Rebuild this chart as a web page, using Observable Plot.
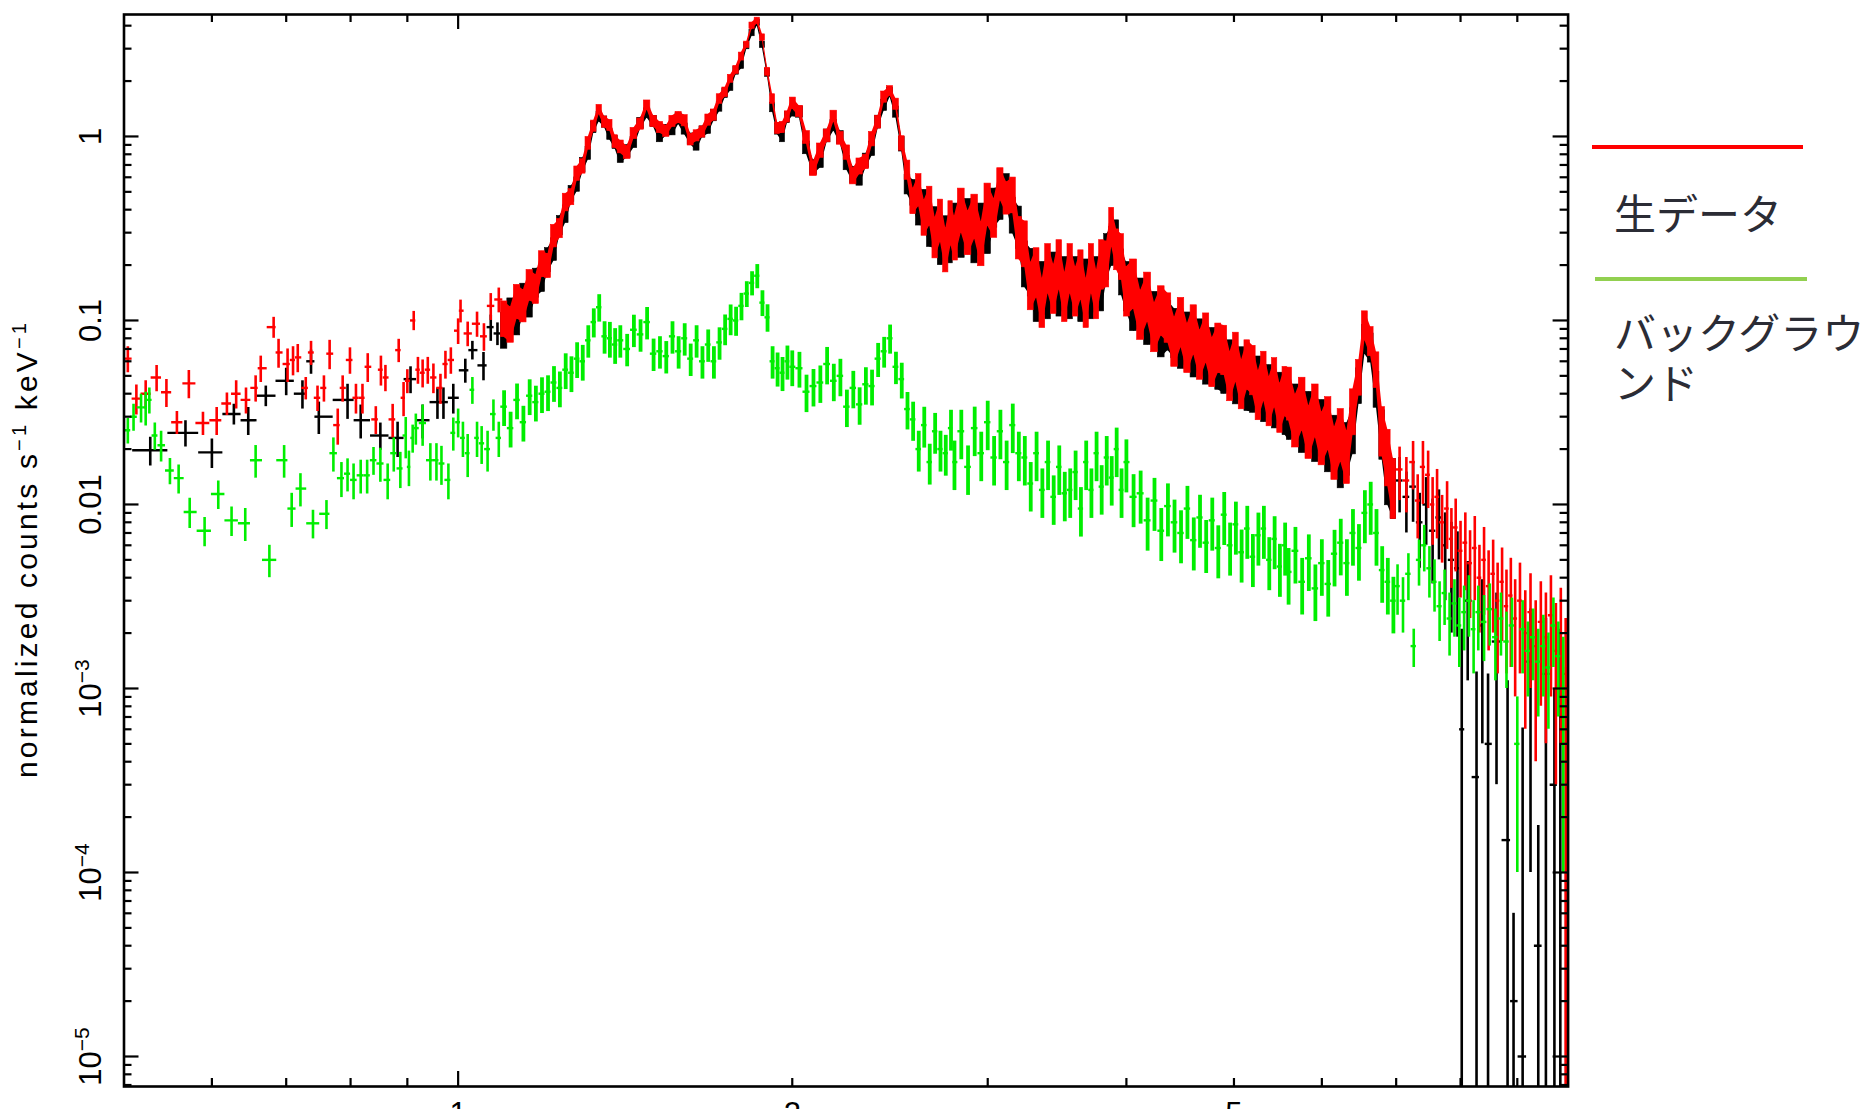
<!DOCTYPE html>
<html><head><meta charset="utf-8">
<script src="https://cdn.jsdelivr.net/npm/d3@7"></script>
<script src="https://cdn.jsdelivr.net/npm/@observablehq/plot@0.6"></script>
<style>
html,body{margin:0;padding:0;background:#fff;overflow:hidden}
#wrap{position:relative;width:1868px;height:1109px;overflow:hidden;background:#fff}
#wrap svg{position:absolute;left:0;top:0}
.lg-line{position:absolute;height:4px}
.lg-text{position:absolute;font-family:"Noto Sans CJK JP","Noto Sans CJK SC",sans-serif;font-size:42px;color:#2b2c35;white-space:nowrap}
</style></head><body><div id="wrap"></div>
<script>
// ---------- dense-band energy grid (keV) ----------
const bandE = [1.100,1.115,1.130,1.145,1.160,1.175,1.190,1.205,1.220,1.235,1.250,1.265,1.280,1.295,1.310,1.325,1.340,1.355,1.370,1.385,
1.40,1.42,1.44,1.46,1.48,1.50,1.52,1.54,1.56,1.58,1.60,1.62,1.64,1.66,1.68,1.70,1.72,1.74,1.76,1.78,1.80,1.82,1.84,1.86,1.88,1.90,1.92,1.94,1.96,1.98,
2.00,2.03,2.06,2.09,2.12,2.15,2.18,2.21,2.24,2.27,2.30,2.33,2.36,2.39,2.42,2.45,2.48,2.51,2.54,2.57,2.60,2.63,2.66,2.69,2.72,2.75,2.78,
2.80,2.84,2.88,2.92,2.96,3.00,3.04,3.08,3.12,3.16,3.20,3.24,3.28,3.32,3.36,3.40,3.44,3.48,3.52,3.56,3.60,3.64,3.68,3.72,3.76,3.80,3.84,3.88,3.92,3.96,
4.00,4.06,4.12,4.18,4.24,4.30,4.36,4.42,4.48,4.54,4.60,4.66,4.72,4.78,4.84,4.90,4.96,5.02,5.08,5.14,5.20,5.26,5.32,5.38,5.44,5.50,5.56,
5.60,5.68,5.76,5.84,5.92,6.00,6.08,6.16,6.24,6.32,6.40,6.48,6.56,6.64,6.72,6.80,6.88,6.96];

// raw data (red), normalized counts s^-1 keV^-1
const redBand = [0.104,0.097,0.129,0.122,0.158,0.150,0.205,0.200,0.290,0.318,0.44,0.47,0.63,0.69,0.92,1.14,1.40,1.20,1.15,0.94,
0.88,0.82,1.04,1.17,1.48,1.21,1.12,1.07,1.21,1.27,1.22,0.96,1.01,1.06,1.23,1.31,1.60,1.74,2.06,2.30,2.72,3.15,4.00,4.25,3.45,2.25,1.60,1.11,1.12,1.28,
1.52,1.37,0.99,0.67,0.84,1.01,1.29,0.98,0.82,0.61,0.69,0.73,0.97,1.20,1.64,1.77,1.50,0.92,0.66,0.45,0.52,0.37,0.43,0.29,0.36,0.25,0.35,
0.29,0.41,0.31,0.38,0.27,0.44,0.37,0.56,0.47,0.49,0.29,0.27,0.16,0.19,0.13,0.20,0.155,0.21,0.14,0.20,0.15,0.185,0.13,0.20,0.145,0.21,0.21,0.33,0.25,0.23,
0.150,0.165,0.112,0.140,0.096,0.118,0.108,0.080,0.102,0.074,0.093,0.068,0.084,0.062,0.074,0.072,0.052,0.066,0.047,0.060,0.056,0.041,0.052,0.038,0.048,0.035,0.043,
0.042,0.030,0.037,0.026,0.034,0.024,0.029,0.020,0.025,0.019,0.033,0.050,0.095,0.078,0.055,0.026,0.019,0.013];

// second data group (black)
const blackBand = [0.090,0.108,0.105,0.132,0.128,0.162,0.170,0.215,0.245,0.33,0.38,0.49,0.55,0.70,0.81,1.12,1.28,1.20,1.03,0.93,
0.78,0.83,0.93,1.18,1.34,1.21,1.00,1.08,1.09,1.25,1.10,0.97,0.90,1.06,1.11,1.30,1.45,1.72,1.86,2.28,2.45,3.10,3.65,4.15,3.15,2.22,1.44,1.10,1.00,1.27,
1.38,1.36,0.87,0.68,0.74,1.01,1.15,0.99,0.72,0.62,0.60,0.74,0.86,1.20,1.48,1.74,1.36,0.91,0.55,0.50,0.41,0.42,0.33,0.33,0.27,0.29,0.28,
0.34,0.30,0.36,0.28,0.34,0.31,0.42,0.44,0.52,0.38,0.33,0.21,0.19,0.14,0.16,0.145,0.18,0.15,0.17,0.145,0.17,0.14,0.165,0.145,0.17,0.16,0.23,0.26,0.28,0.19,
0.160,0.125,0.130,0.105,0.110,0.090,0.098,0.089,0.078,0.085,0.070,0.078,0.064,0.070,0.060,0.057,0.060,0.050,0.055,0.046,0.045,0.049,0.040,0.044,0.037,0.040,0.034,
0.033,0.034,0.028,0.031,0.025,0.028,0.022,0.023,0.018,0.021,0.026,0.045,0.080,0.072,0.043,0.025,0.015,0.013];

// relative 1-sigma errors (%) for red & black band bins
const rbErrPct = [22,22,21,20,19,18,16,15,14,12,11,10,9,9,8,7,6,7,7,8,
8,8,7,7,6,7,7,7,7,7,7,7,7,7,7,7,6,6,5,5,5,4,4,4,4,5,6,7,7,7,
7,7,8,9,9,8,7,8,9,10,10,9,9,8,7,6,7,9,12,16,20,22,24,25,26,27,27,
27,27,27,27,27,26,24,20,20,22,26,28,29,30,30,30,30,30,30,30,30,30,30,30,30,30,28,24,25,28,
30,30,30,30,30,30,30,30,30,30,30,30,30,30,30,30,30,30,30,30,30,30,30,30,30,30,30,
32,32,32,32,32,32,32,32,32,32,28,22,18,18,22,30,34,36];

// background (green)
const greenBand = [0.034,0.026,0.037,0.028,0.039,0.036,0.040,0.041,0.046,0.043,0.054,0.052,0.062,0.060,0.078,0.098,0.118,0.082,0.080,0.074,
0.078,0.070,0.089,0.084,0.098,0.066,0.068,0.064,0.082,0.068,0.080,0.062,0.078,0.060,0.074,0.060,0.076,0.090,0.102,0.100,0.120,0.140,0.160,0.175,0.125,0.104,0.060,0.055,0.052,0.060,
0.056,0.055,0.041,0.044,0.046,0.058,0.047,0.050,0.034,0.043,0.035,0.045,0.044,0.062,0.068,0.080,0.056,0.048,0.033,0.029,0.020,0.027,0.017,0.025,0.020,0.019,0.026,
0.017,0.025,0.016,0.026,0.019,0.028,0.018,0.025,0.017,0.027,0.019,0.018,0.013,0.019,0.012,0.017,0.011,0.016,0.0115,0.012,0.015,0.0095,0.017,0.012,0.019,0.0125,0.018,0.014,0.020,0.012,
0.017,0.011,0.0115,0.0082,0.0105,0.0072,0.0098,0.0080,0.0070,0.0095,0.0064,0.0085,0.0062,0.0082,0.0058,0.0088,0.0060,0.0078,0.0055,0.0074,0.0052,0.0068,0.0074,0.0050,0.0065,0.0046,0.0060,
0.0043,0.0056,0.0038,0.0051,0.0035,0.0048,0.0037,0.0054,0.0062,0.0048,0.0070,0.0058,0.0090,0.0100,0.0070,0.0044,0.0038,0.0030];
const greenErrPct = [22,22,22,22,22,22,22,22,22,22,22,22,22,22,20,18,17,20,22,22,
20,20,20,20,20,20,20,20,20,20,20,20,20,20,20,20,20,19,19,18,17,16,15,15,16,17,20,21,21,21,
22,22,23,23,23,23,23,23,23,23,23,23,22,21,19,18,20,22,23,24,25,25,25,25,25,25,25,
30,30,30,30,30,30,30,30,30,30,30,30,30,30,30,30,30,30,30,30,30,30,30,30,30,30,30,30,30,30,
32,32,32,32,32,32,32,32,32,32,32,32,32,32,32,32,32,32,32,32,32,32,32,32,32,32,32,
34,34,34,34,34,34,34,34,34,34,34,34,32,32,34,34,34,34];

// ---------- sparse low-energy bins ----------
const redLowE = [0.504,0.513,0.523,0.535,0.546,0.558,0.572,0.589,0.606,0.619,0.631,0.644,0.657,0.664,0.682,0.689,0.702,0.710,0.717,0.729,0.737,0.747,0.757,0.766,0.779,0.787,0.799,0.809,0.820,0.829,0.843,0.852,0.860,0.873,0.884,0.893,0.900,0.912,0.920,0.929,0.939,0.950,0.964,0.974,0.985,1.000,1.005,1.020,1.040,1.055,1.070,1.088];
const redLowV = [0.062,0.0376,0.040,0.049,0.0407,0.028,0.0455,0.0277,0.0287,0.0354,0.040,0.037,0.043,0.055,0.092,0.067,0.058,0.061,0.063,0.043,0.067,0.038,0.043,0.066,0.027,0.043,0.061,0.038,0.038,0.056,0.029,0.054,0.049,0.029,0.069,0.038,0.047,0.100,0.054,0.052,0.054,0.049,0.043,0.058,0.061,0.088,0.113,0.085,0.096,0.082,0.12,0.13];
const redLowErr = [0.010,0.007,0.007,0.008,0.007,0.004,0.008,0.004,0.005,0.005,0.007,0.006,0.007,0.009,0.012,0.012,0.012,0.011,0.011,0.006,0.010,0.006,0.007,0.012,0.006,0.007,0.010,0.007,0.007,0.010,0.005,0.010,0.008,0.006,0.010,0.008,0.007,0.012,0.009,0.009,0.009,0.009,0.008,0.010,0.010,0.014,0.016,0.013,0.015,0.014,0.02,0.02];

const blackLowE = [0.528,0.568,0.600,0.628,0.647,0.671,0.700,0.724,0.737,0.749,0.795,0.817,0.851,0.882,0.906,0.929,0.958,0.970,0.990,1.015,1.030,1.054,1.070,1.085];
const blackLowV = [0.0197,0.0245,0.0192,0.031,0.0287,0.039,0.047,0.040,0.060,0.030,0.037,0.0287,0.0237,0.023,0.048,0.0287,0.036,0.036,0.038,0.0536,0.069,0.057,0.092,0.085];
const blackLowErr = [0.0035,0.004,0.0035,0.004,0.005,0.005,0.008,0.007,0.009,0.006,0.008,0.006,0.004,0.005,0.008,0.006,0.007,0.007,0.007,0.008,0.008,0.010,0.015,0.012];

const greenLowE = [0.504,0.510,0.518,0.523,0.527,0.533,0.540,0.550,0.560,0.573,0.591,0.608,0.625,0.643,0.657,0.676,0.697,0.708,0.721,0.740,0.761,0.772,0.785,0.795,0.805,0.817,0.828,0.839,0.851,0.864,0.875,0.887,0.897,0.903,0.910,0.916,0.929,0.944,0.956,0.966,0.980,0.990,1.000,1.010,1.020,1.030,1.040,1.050,1.063,1.076,1.088];
const greenLowV = [0.0253,0.030,0.0337,0.0337,0.037,0.0237,0.021,0.0153,0.0139,0.0091,0.0072,0.0114,0.0082,0.0079,0.0174,0.0050,0.0174,0.0095,0.0122,0.0079,0.0089,0.019,0.0139,0.0147,0.0136,0.0144,0.0144,0.0174,0.0167,0.0136,0.019,0.0157,0.0237,0.016,0.023,0.026,0.0277,0.0174,0.0174,0.0167,0.0136,0.0245,0.028,0.023,0.019,0.042,0.023,0.0215,0.020,0.031,0.023];
const greenLowErr = [0.004,0.005,0.006,0.007,0.006,0.004,0.004,0.0025,0.0025,0.0017,0.0013,0.002,0.0015,0.0016,0.0035,0.001,0.0035,0.002,0.0025,0.0014,0.0016,0.004,0.003,0.003,0.003,0.003,0.003,0.003,0.0035,0.003,0.004,0.0035,0.006,0.0035,0.004,0.005,0.007,0.004,0.004,0.004,0.003,0.005,0.005,0.005,0.005,0.007,0.005,0.005,0.005,0.006,0.005];

// ---------- sparse high-energy bins ----------
const redHighE = [7.05,7.15,7.25,7.32,7.40,7.48,7.55,7.62,7.70,7.78,7.85,7.92,8.00,8.08,8.16,8.24,8.32,8.40,8.48,8.56,8.64,8.72,8.80,8.88,8.96,9.05,9.15,9.25,9.35,9.45,9.55,9.65,9.75,9.85,9.95];
const redHighV = [0.0155,0.0135,0.0170,0.0105,0.0160,0.0145,0.0100,0.0110,0.0080,0.0095,0.0065,0.0075,0.0056,0.0062,0.0048,0.0058,0.0040,0.0050,0.0036,0.0042,0.0030,0.0038,0.0028,0.0032,0.0024,0.0030,0.0020,0.0026,0.0017,0.0023,0.0019,0.0025,0.0016,0.0020,0.0012];
const redHighErr = [0.005,0.0045,0.005,0.004,0.006,0.005,0.004,0.0045,0.0032,0.0038,0.003,0.0032,0.0025,0.0028,0.0024,0.0028,0.002,0.0025,0.002,0.0022,0.0018,0.002,0.0016,0.0019,0.0015,0.0018,0.0014,0.0016,0.0013,0.0015,0.0014,0.0016,0.0013,0.0015,0.0012];

const blackHighE = [7.05,7.15,7.25,7.35,7.45,7.55,7.65,7.75,7.85,7.95,8.02,8.12,8.27,8.37,8.47,8.62,8.82,8.93,9.10,9.25,9.40,9.55,9.72,9.84,9.96];
const blackHighV = [0.0135,0.0110,0.0125,0.0080,0.0100,0.0072,0.0085,0.0060,0.0050,0.0045,0.0006,0.0030,0.00033,0.0022,0.0005,0.0018,0.00015,0.00002,0.00001,0.0014,0.00004,0.0012,0.0003,0.0010,0.0005];
const blackHighErr = [0.0045,0.004,0.0045,0.0035,0.004,0.0035,0.0035,0.003,0.003,0.0026,0.0015,0.0019,0.0009,0.0017,0.0007,0.0015,0.00095,0.00004,0.0006,0.0013,0.00014,0.0012,0.0007,0.0011,0.0008];

const greenHighE = [7.02,7.10,7.18,7.26,7.34,7.42,7.50,7.58,7.66,7.74,7.82,7.90,7.98,8.06,8.14,8.22,8.30,8.40,8.50,8.60,8.70,8.80,8.90,9.00,9.10,9.20,9.30,9.40,9.50,9.60,9.70,9.80,9.90];
const greenHighV = [0.0036,0.0030,0.0042,0.0017,0.0050,0.0060,0.0045,0.0038,0.0028,0.0033,0.0024,0.0029,0.0022,0.0026,0.0030,0.0021,0.0026,0.0023,0.0027,0.0019,0.0024,0.0018,0.0022,0.0005,0.0021,0.0016,0.0019,0.0014,0.0017,0.0013,0.0022,0.0015,0.0010];
const greenHighErr = [0.0011,0.001,0.0012,0.0004,0.0014,0.0017,0.0014,0.0012,0.001,0.0011,0.0009,0.001,0.0009,0.001,0.0011,0.0009,0.001,0.0009,0.001,0.0008,0.0009,0.0008,0.0009,0.0004,0.0009,0.0007,0.0008,0.0007,0.0008,0.0007,0.0009,0.0008,0.0009];

// ---------- axes ----------
const xDomain = [0.5, 10];
const yDomain = [6.87e-6, 4.6];
const yMajor = [1e-5, 1e-4, 1e-3, 0.01, 0.1, 1];
const yTickLabels = ["10\u207B\u2075", "10\u207B\u2074", "10\u207B\u00B3", "0.01", "0.1", "1"];
const xMajor = [1];
const xMinor = [0.6, 0.7, 0.8, 0.9, 2, 3, 4, 5, 6, 7, 8, 9];
const xTickLabels = ["1", "2", "5"];
const xTickLabelValues = [1, 2, 5];
const yTitle = "normalized counts s\u207B\u00B9 keV\u207B\u00B9";
const legendItems = [{label: "生データ", color: "#ff0000"}, {label: "バックグラウンド", color: "#92d050"}];

// ---------- build rows ----------
function edges(E) {
  const n = E.length;
  return E.map((e, i) => {
    const lo = i > 0 ? Math.sqrt(E[i - 1] * e) : e * Math.sqrt(e / E[1]);
    const hi = i < n - 1 ? Math.sqrt(e * E[i + 1]) : e * Math.sqrt(e / E[n - 2]);
    return [lo, hi];
  });
}
function sparseRows(E, V, S) {
  const n = Math.min(E.length, V.length, S.length);
  const ed = edges(E.slice(0, n));
  return d3.range(n).map(i => ({
    x: E[i], x1: ed[i][0], x2: ed[i][1], v: V[i],
    y1: Math.max(V[i] - S[i], yDomain[0]), y2: V[i] + S[i]
  }));
}
function bandRows(E, V, P) {
  const n = Math.min(E.length, V.length, P.length);
  const ed = edges(E.slice(0, n));
  return d3.range(n).map(i => ({
    x: E[i], x1: ed[i][0], x2: ed[i][1], v: V[i],
    y1: V[i] * (1 - P[i] / 100), y2: V[i] * (1 + P[i] / 100)
  }));
}
const blackB = bandRows(bandE, blackBand, rbErrPct);
const redB = bandRows(bandE, redBand, rbErrPct);
const greenB = bandRows(bandE, greenBand, greenErrPct);
const blackS = sparseRows(blackLowE, blackLowV, blackLowErr).concat(sparseRows(blackHighE, blackHighV, blackHighErr));
const redS = sparseRows(redLowE, redLowV, redLowErr).concat(sparseRows(redHighE, redHighV, redHighErr));
const greenS = sparseRows(greenLowE, greenLowV, greenLowErr).concat(sparseRows(greenHighE, greenHighV, greenHighErr));

const yMinor = [];
for (let p = -6; p <= 0; p++) for (let k = 2; k <= 9; k++) {
  const v = k * Math.pow(10, p);
  if (v > yDomain[0] && v < yDomain[1]) yMinor.push(v);
}

const W = 1868, H = 1109, ML = 123.5, MR = 300.4, MT = 14, MB = 23;
const PW = W - ML - MR, PH = H - MT - MB;
const RED = "#ff0000", BLACK = "#000000", GREEN = "#00ee00";
const MAJ = 15, MIN = 8;

function errMarks(rows, color) {
  return [
    Plot.ruleX(rows, {x: "x", y1: "y1", y2: "y2", stroke: color, strokeWidth: 2.6, clip: true}),
    Plot.ruleY(rows, {y: "v", x1: "x1", x2: "x2", stroke: color, strokeWidth: 2.4, clip: true})
  ];
}
function bandMarks(rows, color) {
  return [
    Plot.areaY(rows, {x: "x", y1: "y1", y2: "y2", fill: color, curve: "linear", clip: true}),
    Plot.rect(rows, {x1: "x1", x2: "x2", y1: "y1", y2: "y2", fill: color, stroke: color, strokeWidth: 0.6, clip: true})
  ];
}

const chart = Plot.plot({
  width: W, height: H, marginLeft: ML, marginRight: MR, marginTop: MT, marginBottom: MB,
  x: {type: "log", domain: xDomain, axis: null},
  y: {type: "log", domain: yDomain, axis: null},
  style: {fontFamily: "'Liberation Sans', Arial, sans-serif", background: "#fff", color: "#000"},
  marks: [
    ...bandMarks(blackB, BLACK),
    ...errMarks(blackS, BLACK),
    ...bandMarks(redB, RED),
    ...errMarks(redS, RED),
    Plot.ruleX(greenB, {x: "x", y1: "y1", y2: "y2", stroke: GREEN, strokeWidth: 3.8, clip: true}),
    Plot.ruleY(greenB, {y: "v", x1: "x1", x2: "x2", stroke: GREEN, strokeWidth: 2.4, clip: true}),
    ...errMarks(greenS, GREEN),
    // ticks on all four sides, pointing inward
    Plot.tickY(yMajor, {y: d => d, insetRight: PW - MAJ, stroke: BLACK, strokeWidth: 2.2}),
    Plot.tickY(yMinor, {y: d => d, insetRight: PW - MIN, stroke: BLACK, strokeWidth: 2.2}),
    Plot.tickY(yMajor, {y: d => d, insetLeft: PW - MAJ, stroke: BLACK, strokeWidth: 2.2}),
    Plot.tickY(yMinor, {y: d => d, insetLeft: PW - MIN, stroke: BLACK, strokeWidth: 2.2}),
    Plot.tickX(xMajor, {x: d => d, insetTop: PH - MAJ, stroke: BLACK, strokeWidth: 2.2}),
    Plot.tickX(xMinor, {x: d => d, insetTop: PH - MIN, stroke: BLACK, strokeWidth: 2.2}),
    Plot.tickX(xMajor, {x: d => d, insetBottom: PH - MAJ, stroke: BLACK, strokeWidth: 2.2}),
    Plot.tickX(xMinor, {x: d => d, insetBottom: PH - MIN, stroke: BLACK, strokeWidth: 2.2}),
    Plot.frame({stroke: BLACK, strokeWidth: 2.6}),
    // tick labels
    Plot.text(yMajor, {y: d => d, text: (d, i) => yTickLabels[i], frameAnchor: "left", dx: -23, rotate: -90,
      textAnchor: "middle", lineAnchor: "bottom", fontSize: 31, fill: BLACK}),
    Plot.text(xTickLabelValues, {x: d => d, text: (d, i) => xTickLabels[i], frameAnchor: "bottom", dy: 15,
      lineAnchor: "top", fontSize: 31, fill: BLACK}),
    Plot.text([yTitle], {text: d => d, frameAnchor: "left", dx: -87, rotate: -90,
      textAnchor: "middle", lineAnchor: "bottom", fontSize: 30, fill: BLACK})
  ]
});

// render superscripts (10^-n, s^-1, keV^-1) as raised smaller tspans
const supMap = {"\u207B": "\u2212", "\u00B9": "1", "\u00B3": "3", "\u2074": "4", "\u2075": "5"};
function superscriptify(node, supSize, rise) {
  const txt = node.textContent;
  const parts = [];
  let cur = "", curSup = false;
  for (const ch of txt) {
    const isSup = ch in supMap;
    if (isSup !== curSup && cur) { parts.push([cur, curSup]); cur = ""; }
    curSup = isSup;
    cur += isSup ? supMap[ch] : ch;
  }
  if (cur) parts.push([cur, curSup]);
  if (!parts.some(p => p[1])) return;
  const sel = d3.select(node);
  sel.text(null);
  let raised = false;
  parts.forEach(([s, sup]) => {
    const t = sel.append("tspan").text(s);
    if (sup && !raised) { t.attr("dy", -rise).attr("font-size", supSize); raised = true; }
    else if (sup) { t.attr("font-size", supSize); }
    else if (!sup && raised) { t.attr("dy", rise); raised = false; }
  });
}
d3.select(chart).selectAll("text").each(function () {
  const t = this.textContent;
  if (t.startsWith("normalized")) {
    superscriptify(this, 20, 11);
    d3.select(this).attr("textLength", 455).attr("lengthAdjust", "spacing");
  } else if (t.startsWith("10")) {
    superscriptify(this, 21, 12);
  }
});

const wrap = document.getElementById("wrap");
wrap.appendChild(chart);

// legend (HTML, to the right of the plot)
const lg = [
  {line: {left: 1592, top: 145, width: 211}, text: {left: 1614, top: 191, lh: 42}},
  {line: {left: 1595, top: 277, width: 212}, text: {left: 1614, top: 306, lh: 50}}
];
legendItems.forEach((item, i) => {
  const L = document.createElement("div");
  L.className = "lg-line";
  L.style.left = lg[i].line.left + "px";
  L.style.top = lg[i].line.top + "px";
  L.style.width = lg[i].line.width + "px";
  L.style.background = item.color;
  wrap.appendChild(L);
  const T = document.createElement("div");
  T.className = "lg-text";
  T.style.left = lg[i].text.left + "px";
  T.style.top = lg[i].text.top + "px";
  T.style.lineHeight = lg[i].text.lh + "px";
  if (i === 1) {
    T.appendChild(document.createTextNode(item.label.slice(0, 6)));
    T.appendChild(document.createElement("br"));
    T.appendChild(document.createTextNode(item.label.slice(6)));
  } else {
    T.textContent = item.label;
  }
  wrap.appendChild(T);
});
</script></body></html>
